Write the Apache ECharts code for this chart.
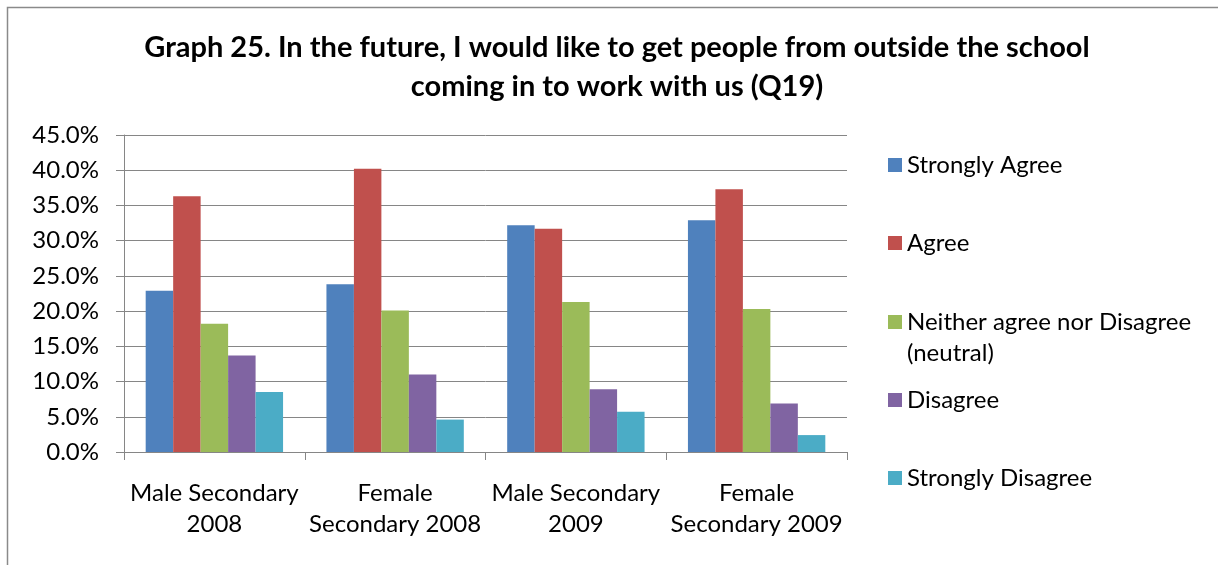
<!DOCTYPE html>
<html>
<head>
<meta charset="utf-8">
<script src="https://cdn.jsdelivr.net/npm/echarts@6/dist/echarts.min.js"></script>
<style>
  html, body { margin: 0; padding: 0; background: #fff; }
  #chart { width: 1218px; height: 565px; }
</style>
</head>
<body>
<div id="chart"></div>
<script>
// Survey groups along the x axis
const categories = [
  'Male Secondary\n2008',
  'Female\nSecondary 2008',
  'Male Secondary\n2009',
  'Female\nSecondary 2009'
];

// Response shares, percent of respondents in each group
const stronglyAgree    = [22.9, 23.8, 32.2, 32.9];
const agree            = [36.3, 40.2, 31.7, 37.3];
const neither          = [18.2, 20.1, 21.3, 20.3];
const disagree         = [13.7, 11.0, 8.9, 6.9];
const stronglyDisagree = [8.5, 4.6, 5.7, 2.4];

const seriesNames = [
  'Strongly Agree',
  'Agree',
  'Neither agree nor Disagree\n(neutral)',
  'Disagree',
  'Strongly Disagree'
];
const seriesValues = [stronglyAgree, agree, neither, disagree, stronglyDisagree];
const colors = ['#4F81BD', '#C0504D', '#9BBB59', '#8064A2', '#4BACC6'];

// Y axis range and step (percent)
const yMin = 0, yMax = 45, yStep = 5;

const FONT = 'Lato';
const textColor = '#000';
const lineGray = '#868686';
const LINE_H = 31;

// One legend block per entry; a wrapped name gets a blank leading line so
// the marker lines up with its first text line
const legendCenters = [165, 243, 322, 400, 478];
const legends = seriesNames.map((name, i) => {
  const twoLine = name.indexOf('\n') >= 0;
  return {
    data: [name],
    orient: 'vertical',
    left: 888,
    top: legendCenters[i] - (twoLine ? LINE_H * 1.5 : LINE_H / 2),
    padding: 0,
    itemWidth: 14,
    itemHeight: 14,
    itemGap: 0,
    icon: 'rect',
    selectedMode: false,
    formatter: n => (n.indexOf('\n') >= 0 ? '\n' + n : n),
    textStyle: {
      fontFamily: FONT,
      fontSize: 24,
      color: textColor,
      lineHeight: LINE_H
    }
  };
});

const chart = echarts.init(document.getElementById('chart'), null, { renderer: 'canvas' });

chart.setOption({
  animation: false,
  backgroundColor: '#fff',
  textStyle: { fontFamily: FONT },
  title: {
    text: 'Graph 25. In the future, I would like to get people from outside the school\ncoming in to work with us (Q19)',
    left: 612,
    textAlign: 'center',
    top: 23,
    textStyle: {
      fontFamily: FONT,
      fontWeight: 'bold',
      fontSize: 29,
      lineHeight: 39,
      color: textColor
    }
  },
  legend: legends,
  grid: {
    left: 124,
    right: 371,
    top: 135,
    bottom: 113,
    containLabel: false
  },
  xAxis: {
    type: 'category',
    data: categories,
    axisLine: { show: true, lineStyle: { color: lineGray, width: 1 } },
    axisTick: { show: true, length: 8, alignWithLabel: false, lineStyle: { color: lineGray } },
    axisLabel: {
      interval: 0,
      margin: 26,
      fontFamily: FONT,
      fontSize: 24,
      lineHeight: LINE_H,
      color: textColor
    },
    splitLine: { show: false }
  },
  yAxis: {
    type: 'value',
    min: yMin,
    max: yMax,
    interval: yStep,
    axisLine: { show: true, lineStyle: { color: lineGray, width: 1 } },
    axisTick: { show: true, length: 8, lineStyle: { color: lineGray } },
    axisLabel: {
      margin: 25,
      fontFamily: FONT,
      fontSize: 24,
      color: textColor,
      formatter: v => v.toFixed(1) + '%'
    },
    splitLine: { show: true, lineStyle: { color: lineGray, width: 1 } }
  },
  series: seriesNames.map((name, i) => ({
    name: name,
    type: 'bar',
    data: seriesValues[i],
    barGap: '0%',
    barCategoryGap: '24%',
    itemStyle: { color: colors[i] },
    emphasis: { disabled: true }
  })),
  graphic: [{
    type: 'rect',
    silent: true,
    shape: { x: 7.5, y: 7.5, width: 1400, height: 800 },
    style: { fill: 'none', stroke: '#8a8a8a', lineWidth: 1.5 }
  }]
});
</script>
</body>
</html>
